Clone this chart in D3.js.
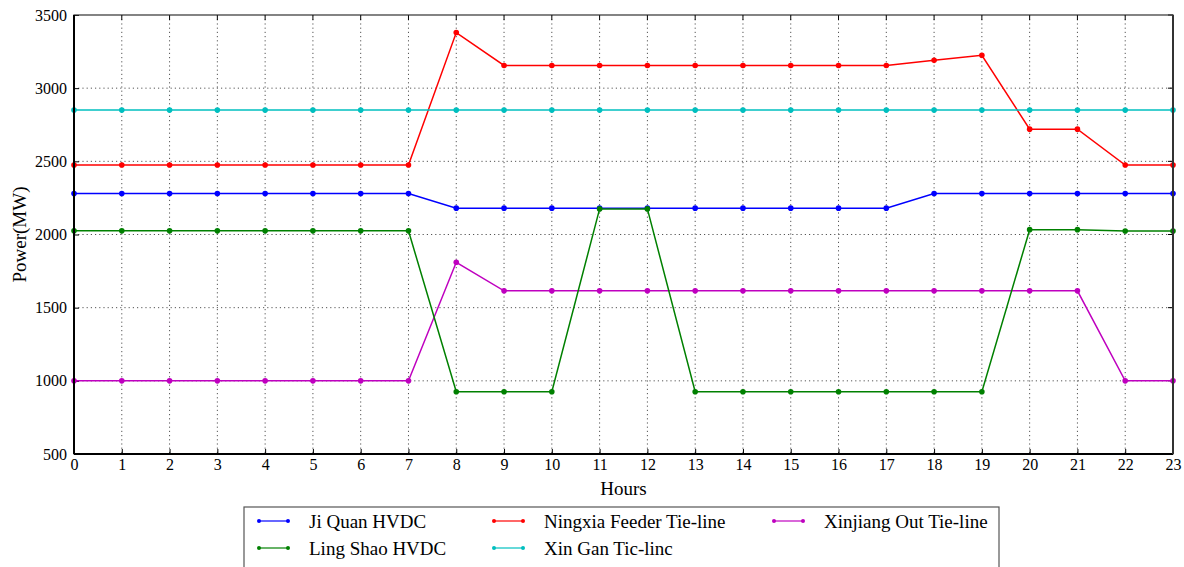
<!DOCTYPE html>
<html><head><meta charset="utf-8">
<script src="https://cdn.jsdelivr.net/npm/d3@7"></script>
<style>body{margin:0;background:#fff}svg text{fill:#000}</style>
</head><body>
<svg id="chart" width="1184" height="567"></svg>
<script>
const hours = d3.range(0,24);
const jiQuan    = [2280,2280,2280,2280,2280,2280,2280,2280,2180,2180,2180,2180,2180,2180,2180,2180,2180,2180,2280,2280,2280,2280,2280,2280];
const ningxia   = [2475,2475,2475,2475,2475,2475,2475,2475,3380,3155,3155,3155,3155,3155,3155,3155,3155,3155,3190,3225,2720,2720,2475,2475];
const xinjiang  = [1000,1000,1000,1000,1000,1000,1000,1000,1810,1615,1615,1615,1615,1615,1615,1615,1615,1615,1615,1615,1615,1615,1000,1000];
const lingShao  = [2025,2025,2025,2025,2025,2025,2025,2025,925,925,925,2175,2175,925,925,925,925,925,925,925,2033,2033,2024,2024];
const xinGan    = [2850,2850,2850,2850,2850,2850,2850,2850,2850,2850,2850,2850,2850,2850,2850,2850,2850,2850,2850,2850,2850,2850,2850,2850];
const yTicks = [500,1000,1500,2000,2500,3000,3500];
const seriesNames = ["Ji Quan HVDC","Ningxia Feeder Tie-line","Xinjiang Out Tie-line","Ling Shao HVDC","Xin Gan Tic-linc"];
const seriesValues = [jiQuan, ningxia, xinjiang, lingShao, xinGan];
const colors = ["#0000ff","#ff0000","#bf00bf","#008000","#00bfbf"];

const FONT = '"Liberation Serif","Times New Roman",serif';
const svg = d3.select("#chart");
const L=74,R=1173,T=15,B=454;
const x = d3.scaleLinear().domain([0,23]).range([L,R]);
const y = d3.scaleLinear().domain([500,3500]).range([B,T]);

// grid
const g = svg.append("g");
g.selectAll(".vg").data(hours.slice(1,23)).enter().append("line")
 .attr("x1",d=>x(d)).attr("x2",d=>x(d)).attr("y1",T).attr("y2",B)
 .attr("stroke","#555").attr("stroke-width",1).attr("stroke-dasharray","1.2,3");
g.selectAll(".hg").data(yTicks.slice(1,6)).enter().append("line")
 .attr("y1",d=>y(d)).attr("y2",d=>y(d)).attr("x1",L).attr("x2",R)
 .attr("stroke","#555").attr("stroke-width",1).attr("stroke-dasharray","1.2,3");

// axes
const xAxis = d3.axisBottom(x).tickValues(hours).tickSize(-5).tickPadding(5).tickFormat(d3.format("d"));
const yAxis = d3.axisLeft(y).tickValues(yTicks).tickSize(-5).tickPadding(7).tickFormat(d3.format("d"));
const gx = svg.append("g").attr("transform",`translate(0,${B})`).call(xAxis);
const gy = svg.append("g").attr("transform",`translate(${L},0)`).call(yAxis);
[gx,gy].forEach(a=>{a.attr("font-family",FONT).attr("font-size",16);a.select(".domain").remove();a.selectAll("line").attr("stroke","#000");});
// right/top ticks
svg.append("g").selectAll("line").data(yTicks).enter().append("line")
 .attr("x1",R).attr("x2",R-5).attr("y1",d=>y(d)).attr("y2",d=>y(d)).attr("stroke","#000");
svg.append("g").selectAll("line").data(hours).enter().append("line")
 .attr("y1",T).attr("y2",T+5).attr("x1",d=>x(d)).attr("x2",d=>x(d)).attr("stroke","#000");

// lines
const line = d3.line().x((d,i)=>x(hours[i])).y(d=>y(d));
seriesValues.forEach((vals,k)=>{
  svg.append("path").datum(vals).attr("d",line).attr("fill","none").attr("stroke",colors[k]).attr("stroke-width",1.5);
  svg.append("g").selectAll("circle").data(vals).enter().append("circle")
   .attr("cx",(d,i)=>x(hours[i])).attr("cy",d=>y(d)).attr("r",2.8).attr("fill",colors[k]);
});

// frame
svg.append("rect").attr("x",L).attr("y",T).attr("width",R-L).attr("height",B-T).attr("fill","none").attr("stroke","#333").attr("stroke-width",1.2);
svg.append("line").attr("x1",L).attr("x2",L).attr("y1",T).attr("y2",B).attr("stroke","#000").attr("stroke-width",2);
svg.append("line").attr("x1",L).attr("x2",R).attr("y1",B).attr("y2",B).attr("stroke","#000").attr("stroke-width",2);
svg.append("line").attr("x1",R).attr("x2",R).attr("y1",T).attr("y2",B).attr("stroke","#333").attr("stroke-width",2);

// axis labels
svg.append("text").attr("x",(L+R)/2).attr("y",495).attr("text-anchor","middle").attr("font-family",FONT).attr("font-size",19).text("Hours");
svg.append("text").attr("transform",`translate(26,${(T+B)/2}) rotate(-90)`).attr("text-anchor","middle").attr("font-family",FONT).attr("font-size",19).text("Power(MW)");

// legend
const lg = svg.append("g");
lg.append("rect").attr("x",244).attr("y",507).attr("width",755).attr("height",70).attr("fill","#fff").attr("stroke","#555").attr("stroke-width",1.2);
const legPos = [[259,521],[494,521],[774,521],[259,548],[494,548]];
seriesNames.forEach((n,k)=>{
  const [lx,ly]=legPos[k];
  lg.append("line").attr("x1",lx).attr("x2",lx+29).attr("y1",ly).attr("y2",ly).attr("stroke",colors[k]).attr("stroke-width",1.2);
  lg.append("circle").attr("cx",lx).attr("cy",ly).attr("r",2).attr("fill",colors[k]);
  lg.append("circle").attr("cx",lx+29).attr("cy",ly).attr("r",2).attr("fill",colors[k]);
  lg.append("text").attr("x",lx+50).attr("y",ly+7).attr("font-family",FONT).attr("font-size",19).text(n);
});
</script>
</body></html>
